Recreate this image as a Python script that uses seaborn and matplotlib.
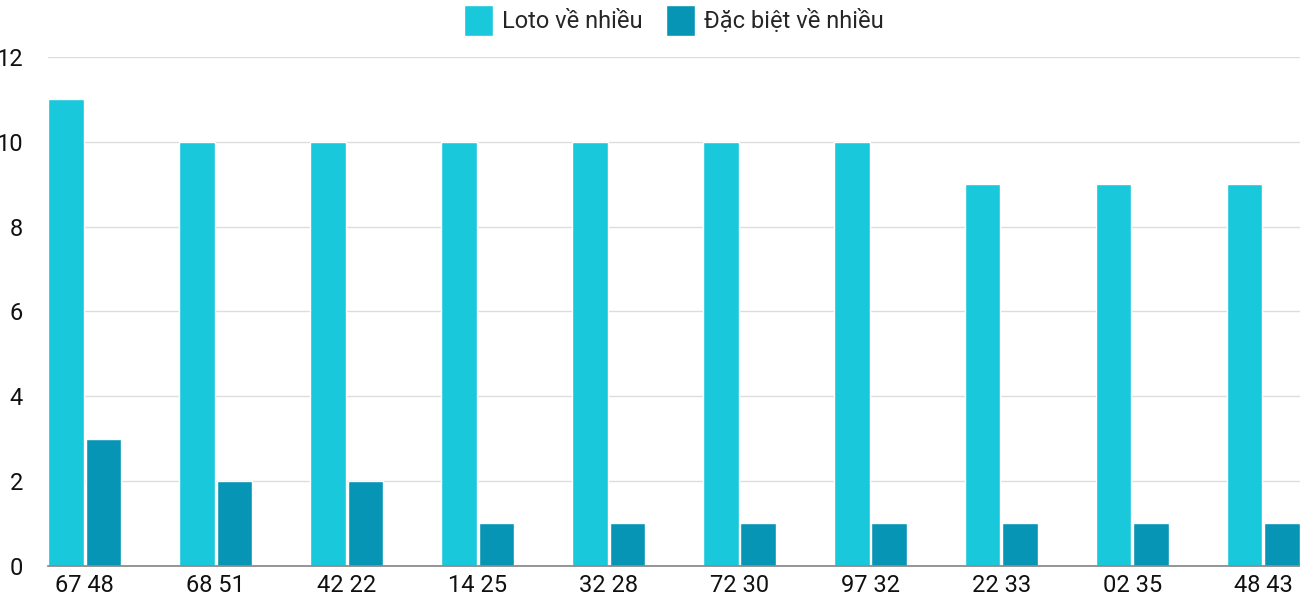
import matplotlib
matplotlib.use("Agg")
import matplotlib.pyplot as plt
import seaborn as sns
import pandas as pd

categories = ["67 48","68 51","42 22","14 25","32 28","72 30","97 32","22 33","02 35","48 43"]
loto = [11,10,10,10,10,10,10,9,9,9]
dacbiet = [3,2,2,1,1,1,1,1,1,1]
series = ["Loto về nhiều", "Đặc biệt về nhiều"]

df = pd.DataFrame({
    "cat": categories*2,
    "val": loto+dacbiet,
    "s": [series[0]]*len(categories)+[series[1]]*len(categories),
})

sns.set_theme(style="white")
plt.rcParams['font.family'] = ['Roboto', 'DejaVu Sans']
fig = plt.figure(figsize=(13,6), dpi=100)
ax = fig.add_axes([0.037, 0.057, 0.963, 0.848])
sns.barplot(data=df, x="cat", y="val", hue="s", palette=["#1ac8db","#0795b6"],
            width=0.57, gap=0.05, ax=ax, saturation=1)
ax.set_xlim(-0.28, 9.28)
ax.set_ylim(0, 12)
ax.set_yticks(range(0,13,2))
ax.yaxis.grid(True, color="#dddddd", lw=1)
ax.set_axisbelow(True)
for s in ["top","right","left"]:
    ax.spines[s].set_visible(False)
ax.spines["bottom"].set_color("#888888")
ax.set_xlabel(""); ax.set_ylabel("")
ax.tick_params(axis="both", labelsize=17, length=0, colors="#111111")
ax.tick_params(axis="y", pad=18)
ax.tick_params(axis="x", pad=6)
ax.legend(loc="lower center", bbox_to_anchor=(0.5, 1.0), ncol=2, frameon=False,
          fontsize=17, handlelength=1.2, handleheight=1.6, columnspacing=1.0, handletextpad=0.4)
fig.savefig("out.png", dpi=100)
